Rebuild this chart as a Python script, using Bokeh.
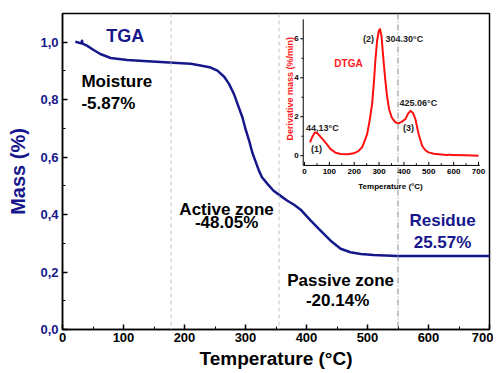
from bokeh.plotting import figure
from bokeh.models import Range1d, FixedTicker, Span, ColumnDataSource
from bokeh.core.properties import value
from bokeh.embed import file_html
from bokeh.resources import INLINE

# ---------------- data ----------------
tga_temp = [21, 27, 31, 32, 33, 40, 51, 62, 79, 106, 133, 161, 188, 210, 224, 243, 254, 265,
            273, 281, 289, 295, 300, 306, 311, 316, 322, 327, 336, 346, 357, 368, 379, 390,
            407, 423, 439, 456, 472, 489, 510, 549, 600, 700]
tga_mass = [1.002, 0.998, 0.996, 1.005, 0.995, 0.988, 0.973, 0.959, 0.945, 0.938, 0.935, 0.931,
            0.928, 0.925, 0.920, 0.912, 0.901, 0.880, 0.855, 0.820, 0.773, 0.738, 0.698, 0.657,
            0.617, 0.588, 0.553, 0.530, 0.507, 0.483, 0.466, 0.449, 0.435, 0.418, 0.379, 0.344,
            0.310, 0.281, 0.269, 0.263, 0.259, 0.256, 0.2557, 0.2557]

dtg_temp = [22, 31, 38, 44, 52, 62, 78, 92, 105, 125, 145, 175, 198, 215, 232, 252, 262, 272,
            280, 285, 292, 299, 304, 310, 318, 325, 331, 340, 351, 365, 379, 392, 406, 416, 426,
            436, 446, 459, 473, 486, 499, 520, 550, 573, 585, 590, 650, 700]
dtg_rate = [0.68, 0.95, 1.12, 1.2, 1.15, 1.0, 0.77, 0.55, 0.34, 0.15, 0.09, 0.08, 0.12, 0.22,
            0.43, 1.11, 1.8, 2.65, 3.9, 4.87, 5.9, 6.41, 6.5, 6.1, 4.87, 3.9, 3.16, 2.4, 1.96,
            1.72, 1.66, 1.75, 1.88, 2.15, 2.3, 2.2, 1.88, 1.11, 0.51, 0.28, 0.17, 0.1, 0.06, 0.03,
            0.06, 0.03, 0.02, 0.0]

x_ticks = [0, 100, 200, 300, 400, 500, 600, 700]
x_minor = [50, 150, 250, 350, 450, 550, 650]
y_ticks = [0.0, 0.2, 0.4, 0.6, 0.8, 1.0]
y_tick_labels = ["0,0", "0,2", "0,4", "0,6", "0,8", "1,0"]
y_minor = [0.1, 0.3, 0.5, 0.7, 0.9]

zone_bounds = [178, 355]
residue_bound = 550

main_labels = ["Moisture", "-5.87%", "Active zone", "-48.05%", "Passive zone", "-20.14%"]
main_lx = [31, 31, 269, 269, 456, 451]
main_ly = [0.863, 0.786, 0.417, 0.372, 0.170, 0.101]
main_align = ["left", "left", "center", "center", "center", "center"]

blue_labels = ["TGA", "Residue", "25.57%"]
blue_lx = [103, 623, 623]
blue_ly = [1.023, 0.379, 0.303]
blue_size = ["18px", "17px", "17px"]

inset_x_ticks = [0, 100, 200, 300, 400, 500, 600, 700]
inset_x_minor = [50, 150, 250, 350, 450, 550, 650]
inset_y_ticks = [0, 2, 4, 6]
inset_y_minor = [1, 3, 5]
inset_labels = ["44,13°C", "(1)", "(2)", "304.30°C", "425.06°C", "(3)"]
inset_lx = [72, 48, 257, 326, 458, 418]
inset_ly = [1.4, 0.36, 6.0, 6.0, 2.72, 1.44]
inset_align = ["center", "center", "center", "left", "center", "center"]

# ---------------- styling ----------------
NAVY = "#17178c"
FONT = "Liberation Sans"

X0, X1, Y0, Y1 = 0, 700, 0, 1.1
p = figure(width=493, height=373, x_range=Range1d(X0, X1), y_range=Range1d(Y0, Y1),
           output_backend="svg", toolbar_location=None,
           min_border_left=62, min_border_right=4, min_border_top=13, min_border_bottom=44)
p.background_fill_color = "white"
p.border_fill_color = "white"
p.outline_line_color = "black"
p.outline_line_width = 1.5
p.grid.visible = False

xa = p.xaxis[0]
xa.ticker = FixedTicker(ticks=x_ticks, minor_ticks=x_minor)
xa.major_tick_in = 5; xa.major_tick_out = 0
xa.minor_tick_in = 3; xa.minor_tick_out = 0
xa.axis_line_color = "black"; xa.major_tick_line_color = "black"; xa.minor_tick_line_color = "black"
xa.axis_line_width = 1.5; xa.major_tick_line_width = 1.5
xa.major_label_text_font = FONT; xa.major_label_text_font_style = "bold"
xa.major_label_text_font_size = "13px"; xa.major_label_text_color = "black"
xa.major_label_standoff = 3
xa.axis_label = "Temperature (°C)"
xa.axis_label_text_font = FONT; xa.axis_label_text_font_style = "bold"
xa.axis_label_text_font_size = "19px"; xa.axis_label_standoff = 3
xa.axis_label_text_color = "black"

ya = p.yaxis[0]
ya.ticker = FixedTicker(ticks=y_ticks, minor_ticks=y_minor)
ya.major_label_overrides = {t: l for t, l in zip(y_ticks, y_tick_labels)}
ya.major_tick_in = 5; ya.major_tick_out = 0
ya.minor_tick_in = 3; ya.minor_tick_out = 0
ya.axis_line_color = "black"; ya.major_tick_line_color = "black"; ya.minor_tick_line_color = "black"
ya.axis_line_width = 1.5; ya.major_tick_line_width = 1.5
ya.major_label_text_font = FONT; ya.major_label_text_font_style = "bold"
ya.major_label_text_font_size = "13px"; ya.major_label_text_color = NAVY
ya.major_label_standoff = 4
ya.axis_label = "Mass (%)"
ya.axis_label_text_font = FONT; ya.axis_label_text_font_style = "bold"
ya.axis_label_text_font_size = "20px"; ya.axis_label_text_color = NAVY
ya.axis_label_standoff = 8

for b in zone_bounds:
    p.add_layout(Span(location=b, dimension="height", line_color="#c4c4c4",
                      line_dash="4 3", line_width=1))
p.add_layout(Span(location=residue_bound, dimension="height", line_color="#8a8a8a",
                  line_dash="6 2 1 2", line_width=1))

p.line(tga_temp, tga_mass, line_color=NAVY, line_width=2.5, line_join="round")

p.text(x=main_lx, y=main_ly, text=main_labels, text_align=main_align, text_baseline="middle",
       text_font=value(FONT), text_font_style="bold", text_font_size="17px", text_color="black")
src_b = ColumnDataSource(dict(x=blue_lx, y=blue_ly, t=blue_labels, s=blue_size))
p.text(x="x", y="y", text="t", text_font_size="s", source=src_b, text_align="center",
       text_baseline="middle", text_font=value(FONT), text_font_style="bold", text_color=NAVY)

# ---------------- inset (DTGA) via extra ranges ----------------
IX_A, IX_B = 396.7, 682.0    # main T where inset T = 0 and 700
IY_A, IY_B = 0.605, 1.012    # main mass where inset rate = 0 and 6
sx = 700.0 / (IX_B - IX_A)
sy = 6.0 / (IY_B - IY_A)
p.extra_x_ranges = {"ix": Range1d((X0 - IX_A) * sx, (X1 - IX_A) * sx)}
p.extra_y_ranges = {"iy": Range1d((Y0 - IY_A) * sy, (Y1 - IY_A) * sy)}
R = dict(x_range_name="ix", y_range_name="iy")

AX_L, AX_R, AX_B, AX_T = -5, 705, -0.5, 7.0
p.segment(x0=[AX_L, AX_L], y0=[AX_B, AX_B], x1=[AX_L, AX_R], y1=[AX_T, AX_B],
          line_color="black", line_width=1, **R)
tick_h = 0.18
p.segment(x0=inset_x_ticks, y0=[AX_B] * len(inset_x_ticks), x1=inset_x_ticks,
          y1=[AX_B + tick_h] * len(inset_x_ticks), line_color="black", line_width=1, **R)
p.segment(x0=inset_x_minor, y0=[AX_B] * len(inset_x_minor), x1=inset_x_minor,
          y1=[AX_B + tick_h * 0.6] * len(inset_x_minor), line_color="black", line_width=1, **R)
tick_w = 12
p.segment(x0=[AX_L] * len(inset_y_ticks), y0=inset_y_ticks, x1=[AX_L - tick_w] * len(inset_y_ticks),
          y1=inset_y_ticks, line_color="black", line_width=1, **R)
p.segment(x0=[AX_L] * len(inset_y_minor), y0=inset_y_minor, x1=[AX_L - tick_w * 0.6] * len(inset_y_minor),
          y1=inset_y_minor, line_color="black", line_width=1, **R)
p.text(x=inset_x_ticks, y=[AX_B - 0.2] * len(inset_x_ticks), text=[str(t) for t in inset_x_ticks],
       text_align="center", text_baseline="top", text_font=value(FONT), text_font_style="bold",
       text_font_size="8px", text_color="black", **R)
p.text(x=[AX_L - tick_w - 6] * len(inset_y_ticks), y=inset_y_ticks, text=[str(t) for t in inset_y_ticks],
       text_align="right", text_baseline="middle", text_font=value(FONT), text_font_style="bold",
       text_font_size="8px", text_color="black", **R)
p.text(x=[-60], y=[3.44], text=["Derivative mass (%/min)"], angle=1.5708, text_align="center",
       text_baseline="middle", text_font=value(FONT), text_font_style="bold", text_font_size="9px",
       text_color="#ff1a1a", **R)
p.text(x=[346], y=[-1.6], text=["Temperature (°C)"], text_align="center", text_baseline="middle",
       text_font=value(FONT), text_font_style="bold", text_font_size="8px", text_color="black", **R)

p.line(dtg_temp, dtg_rate, line_color="#ff1010", line_width=2, line_join="round", **R)
p.text(x=[177], y=[4.72], text=["DTGA"], text_align="center", text_baseline="middle",
       text_font=value(FONT), text_font_style="bold", text_font_size="10px", text_color="#ff1a1a", **R)
p.text(x=inset_lx, y=inset_ly, text=inset_labels, text_align=inset_align, text_baseline="middle",
       text_font=value(FONT), text_font_style="bold", text_font_size="9px", text_color="#222222", **R)

open("out.html", "w").write(file_html(p, INLINE))
